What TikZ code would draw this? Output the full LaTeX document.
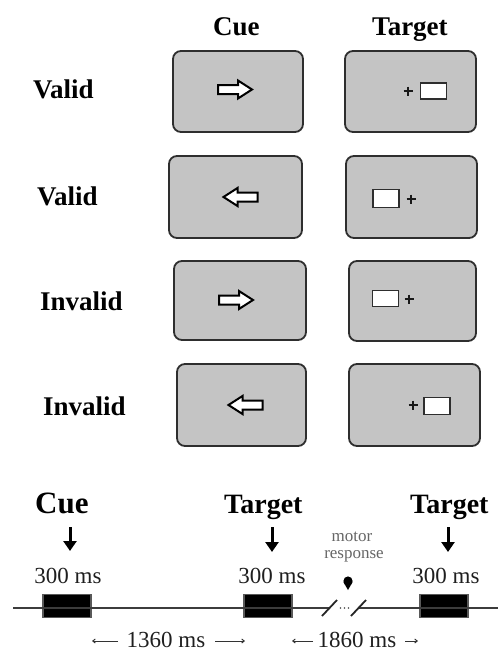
\documentclass[tikz,border=0pt]{standalone}
\usepackage{fontspec}
\setmainfont{Liberation Serif}
\usetikzlibrary{arrows.meta}

\definecolor{screengray}{HTML}{C4C4C4}
\definecolor{edgegray}{HTML}{2E2E2E}
\definecolor{linegray}{HTML}{3C3C3C}

\tikzset{
  screen/.style={draw=edgegray, line width=1.8pt, fill=screengray,
    rounded corners=8pt, inner sep=0pt, outer sep=0pt},
  probe/.style={draw=edgegray, line width=1.2pt, fill=white,
    minimum width=26pt, minimum height=16pt, inner sep=0pt},
  rowlabel/.style={font=\bfseries\fontsize{27}{27}\selectfont, anchor=base west, inner sep=0pt},
  eventlabel/.style={font=\bfseries\fontsize{28}{28}\selectfont, anchor=base west, inner sep=0pt},
  duration/.style={font=\fontsize{23}{23}\selectfont, text=black!88, anchor=base, inner sep=0pt},
  smallnote/.style={font=\fontsize{17}{17}\selectfont, text=black!60, anchor=base, inner sep=0pt},
  stimbar/.style={draw=black!65, line width=1.2pt, fill=black,
    minimum width=48pt, minimum height=23pt, inner sep=0pt},
  downarrow/.style={line width=3pt, -{Triangle[width=13pt,length=10pt]}},
  spanarrow/.style={line width=1pt, black!80, -{Straight Barb[length=2.5pt,width=4pt]}},
  timeline/.style={line width=2.5pt, linegray},
  fixmark/.pic={\draw[line width=1.9pt, black!90] (-4.5,0) -- (4.5,0) (0,-4.5) -- (0,4.5);},
  cuearrow/.pic={\draw[line width=2pt, black, fill=white, line join=miter]
    (-17,-4.5) -- (3,-4.5) -- (3,-9) -- (17,0) -- (3,9) -- (3,4.5) -- (-17,4.5) -- cycle;}
}

\begin{document}
\begin{tikzpicture}[x=1pt, y=-1pt]
\useasboundingbox (0,0) rectangle (498,651);

% column headers
\node[rowlabel] (hcue) at (213,35) {Cue};
\node[rowlabel] (htarget) at (372,35) {Target};

% row labels
\node[rowlabel] (r1) at (33,98) {Valid};
\node[rowlabel] (r2) at (37,205) {Valid};
\node[rowlabel] (r3) at (40,310) {Invalid};
\node[rowlabel] (r4) at (43,415) {Invalid};

% cue screens
\node[screen, minimum width=130pt, minimum height=81pt] (c1) at (238,91.5) {};
\node[screen, minimum width=133pt, minimum height=82pt] (c2) at (235.5,197) {};
\node[screen, minimum width=132pt, minimum height=79pt] (c3) at (240,300.5) {};
\node[screen, minimum width=129pt, minimum height=82pt] (c4) at (241.5,405) {};

% target screens
\node[screen, minimum width=131pt, minimum height=81pt] (t1) at (410.5,91.5) {};
\node[screen, minimum width=131pt, minimum height=82pt] (t2) at (411.5,197) {};
\node[screen, minimum width=127pt, minimum height=80pt] (t3) at (412.5,301) {};
\node[screen, minimum width=131pt, minimum height=82pt] (t4) at (414.5,405) {};

% central arrow cues
\pic at (235,89.5) {cuearrow};
\pic[xscale=-1] at (240.5,197) {cuearrow};
\pic at (236,300) {cuearrow};
\pic[xscale=-1] at (245.5,405) {cuearrow};

% fixation crosses and peripheral targets
\pic at (408,91) {fixmark};
\node[probe] (p1) at (433.5,91) {};
\pic at (411,199) {fixmark};
\node[probe, minimum height=18pt] (p2) at (386,198.5) {};
\pic at (409,299) {fixmark};
\node[probe] (p3) at (385.5,298.5) {};
\pic at (413,405) {fixmark};
\node[probe, minimum height=17pt] (p4) at (437,406) {};

% timeline: event labels
\node[eventlabel, font=\bfseries\fontsize{31}{31}\selectfont] (ecue) at (35,513) {Cue};
\node[eventlabel] (etarget1) at (224,513) {Target};
\node[eventlabel] (etarget2) at (410,513) {Target};

\coordinate (d1s) at (70,527);
\coordinate (d1e) at (70,551);
\coordinate (d2s) at (272,527);
\coordinate (d2e) at (272,552);
\coordinate (d3s) at (448,527);
\coordinate (d3e) at (448,552);
\draw[downarrow] (d1s) -- (d1e);
\draw[downarrow] (d2s) -- (d2e);
\draw[downarrow] (d3s) -- (d3e);

\node[duration] (ms1) at (68,583) {300 ms};
\node[duration] (ms2) at (272,583) {300 ms};
\node[duration] (ms3) at (446,583) {300 ms};

\node[smallnote] (motor) at (352,541) {motor};
\node[smallnote] (resp) at (354,558) {response};

% motor response marker
\fill[black] (348,581) circle[radius=4.6pt];
\fill[black] (343.4,582) -- (352.6,582) -- (348,590) -- cycle;

% stimulus bars
\node[stimbar] (b1) at (67,606) {};
\node[stimbar] (b2) at (268,606) {};
\node[stimbar] (b3) at (444,606) {};

% time axis with a break
\coordinate (tl0) at (13,608);
\coordinate (brk1) at (329,608);
\coordinate (brk2) at (359,608);
\coordinate (tl1) at (498,608);
\draw[timeline] (tl0) -- (brk1);
\draw[timeline] (brk2) -- (tl1);
\draw[line width=1.8pt, black!85] (322,616) -- (337,600);
\draw[line width=1.8pt, black!85] (351,616) -- (366,600);
\fill[black!70] (340.5,608) circle[radius=0.9pt] (344.5,608) circle[radius=0.9pt] (348.5,608) circle[radius=0.9pt];

% interval spans
\node[duration] (i1) at (166,647.5) {1360 ms};
\node[duration] (i2) at (357,647.5) {1860 ms};
\coordinate (s1a) at (118,641);
\coordinate (s1b) at (92,641);
\coordinate (s2a) at (215,641);
\coordinate (s2b) at (245,641);
\coordinate (s3a) at (313,641);
\coordinate (s3b) at (292,641);
\coordinate (s4a) at (405,641);
\coordinate (s4b) at (418,641);
\draw[spanarrow] (s1a) -- (s1b);
\draw[spanarrow] (s2a) -- (s2b);
\draw[spanarrow] (s3a) -- (s3b);
\draw[spanarrow] (s4a) -- (s4b);
\end{tikzpicture}
\end{document}
